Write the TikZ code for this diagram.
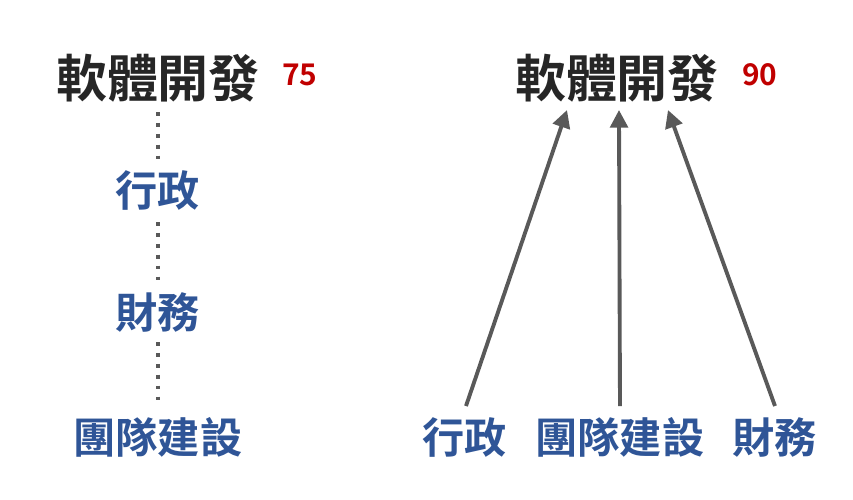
\documentclass[tikz,border=0pt]{standalone}
\usepackage{fontspec}
\setmainfont{Noto Sans CJK TC}[BoldFont={Noto Sans CJK TC Bold}]
\usetikzlibrary{arrows.meta}
\definecolor{titlegray}{HTML}{262626}
\definecolor{linegray}{HTML}{595959}
\definecolor{deptblue}{HTML}{2F5597}
\definecolor{scorered}{HTML}{C00000}
\tikzset{
  title/.style={font=\bfseries\fontsize{14.5}{16}\selectfont, text=titlegray},
  score/.style={font=\bfseries\fontsize{8.5}{10}\selectfont, text=scorered},
  dept/.style={font=\bfseries\fontsize{12}{14}\selectfont, text=deptblue},
  link/.style={linegray, line width=1.1pt, -{Triangle[length=5pt,width=5pt]}},
  chain/.style={linegray, line width=1.1pt, dotted}
}
\begin{document}
\begin{tikzpicture}[x=0.01cm, y=-0.01cm]
        \useasboundingbox (0,0) rectangle (853,499);

        %LEFT
        \node[title] (swL) at (158,78) {軟體開發};
        \node[score] (scL) at (300,75) {75};
        \node[dept] (adL) at (158,190) {行政};
        \node[dept] (fiL) at (158,312) {財務};
        \node[dept] (tbL) at (158,437) {團隊建設};
        \coordinate (a1) at (158,112); \coordinate (a2) at (158,160);
        \coordinate (b1) at (158,222); \coordinate (b2) at (158,280);
        \coordinate (c1) at (158,342); \coordinate (c2) at (158,402);
        \draw[chain] (a1) -- (a2);
        \draw[chain] (b1) -- (b2);
        \draw[chain] (c1) -- (c2);

        %RIGHT
        \node[title] (swR) at (617,78) {軟體開發};
        \node[score] (scR) at (760,75) {90};
        \node[dept] (adR) at (465,437) {行政};
        \node[dept] (tbR) at (620,437) {團隊建設};
        \node[dept] (fiR) at (775,437) {財務};
        \coordinate (p1) at (567,110);
        \coordinate (p2) at (619,110);
        \coordinate (p3) at (668,110);
        \coordinate (q1) at (466,406);
        \coordinate (q2) at (620,406);
        \coordinate (q3) at (775,406);
        \draw[link] (q1) -- (p1);
        \draw[link] (q2) -- (p2);
        \draw[link] (q3) -- (p3);
    \end{tikzpicture}
\end{document}
